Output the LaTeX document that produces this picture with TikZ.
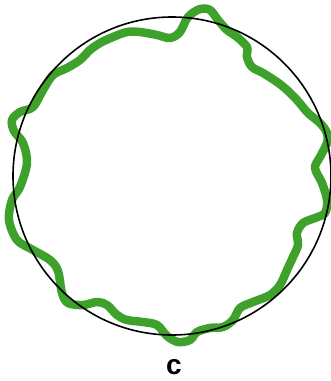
\documentclass[tikz,border=0pt]{standalone}
\usepackage{fontspec}
\setsansfont{Liberation Sans}
\definecolor{wavegreen}{HTML}{3DA12B}
\usepackage{tikz}
\usetikzlibrary{calc, positioning}

\begin{document}
\begin{tikzpicture}[x=1pt, y=-1pt,
  ring/.style={draw=black, line width=1.6pt},
  wave/.style={draw=wavegreen, line width=8.5pt, line join=round},
  lbl/.style={font=\sffamily\bfseries\fontsize{28}{28}\selectfont, inner sep=0pt}
]
\useasboundingbox (0,0) rectangle (331,381);

% wavy outline
\draw[wave] plot[smooth cycle, tension=0.55] coordinates {
  (200,9) (188,17) (180,32) (170,38) (157,35) (140,32) (127,32)
  (113,37) (100,43) (90,50) (80,60) (67,68) (53,75) (43,90)
  (33,107) (20,112) (12,120) (14,131) (23,143) (27,163) (20,187)
  (12,200) (9,220) (17,240) (33,250) (50,260) (58,271) (62,293)
  (68,303) (83,305) (97,302) (107,305) (117,315) (127,320) (143,322)
  (157,325) (167,336) (178,342) (190,340) (197,332) (210,328) (223,327)
  (233,320) (240,308) (253,302) (270,295) (280,285) (287,270) (293,257)
  (298,245) (297,233) (303,223) (315,218) (325,213) (327,200) (322,183)
  (315,168) (320,157) (327,143) (327,133) (320,123) (308,113) (297,100)
  (287,90) (277,82) (263,73) (252,67) (247,57) (247,47) (237,37)
  (227,30) (218,20) (210,10)};

% reference circle
\draw[ring] (172,176) circle (159pt);

\node[lbl] (c) at (174,367) {c};
\end{tikzpicture}
\end{document}
